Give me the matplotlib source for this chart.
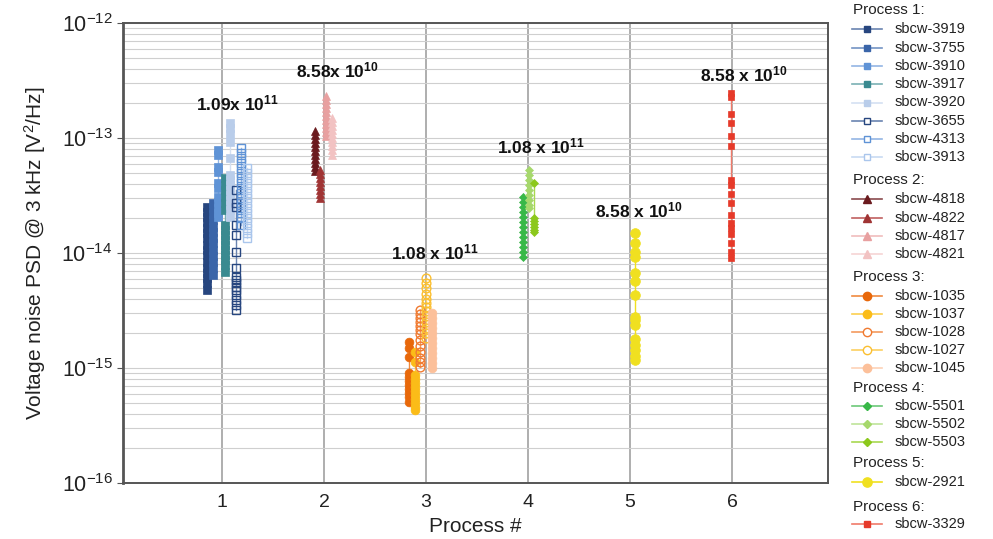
import matplotlib
matplotlib.use("Agg")
import matplotlib.pyplot as plt
from matplotlib.lines import Line2D
from matplotlib.ticker import LogLocator, NullFormatter

plt.rcParams['font.family'] = ['Liberation Sans', 'DejaVu Sans']
plt.rcParams['mathtext.fontset'] = 'custom'
plt.rcParams['mathtext.rm'] = 'Liberation Sans'
plt.rcParams['mathtext.it'] = 'Liberation Sans:italic'
plt.rcParams['mathtext.bf'] = 'Liberation Sans:bold'
plt.rcParams['axes.unicode_minus'] = False

# ---------------- data ----------------
process_ticks = [1, 2, 3, 4, 5, 6]
y_ticks = [1e-16, 1e-15, 1e-14, 1e-13, 1e-12]
y_tick_labels = [r"10$^{-16}$", r"10$^{-15}$", r"10$^{-14}$", r"10$^{-13}$", r"10$^{-12}$"]

names = ["sbcw-3919", "sbcw-3755", "sbcw-3910", "sbcw-3917", "sbcw-3920", "sbcw-3655", "sbcw-4313", "sbcw-3913",
         "sbcw-4818", "sbcw-4822", "sbcw-4817", "sbcw-4821",
         "sbcw-1035", "sbcw-1037", "sbcw-1028", "sbcw-1027", "sbcw-1045",
         "sbcw-5501", "sbcw-5502", "sbcw-5503",
         "sbcw-2921",
         "sbcw-3329"]

process_of = [1, 1, 1, 1, 1, 1, 1, 1,
              2, 2, 2, 2,
              3, 3, 3, 3, 3,
              4, 4, 4,
              5,
              6]

# x position of each series (process number plus small spread)
series_x = [0.85, 0.91, 0.96, 1.03, 1.08, 1.14, 1.19, 1.25,
            1.91, 1.96, 2.02, 2.08,
            2.83, 2.89, 2.94, 3.00, 3.06,
            3.95, 4.01, 4.06,
            5.05,
            5.99]

psd_3919 = [2.51e-14, 2.27e-14, 2.06e-14, 1.86e-14, 1.65e-14, 1.49e-14, 1.35e-14, 1.17e-14,
            1.06e-14, 9.6e-15, 8.35e-15, 7.41e-15, 6.70e-15, 6.06e-15, 5.48e-15, 4.77e-15]
psd_3755 = [2.72e-14, 2.46e-14, 2.18e-14, 1.94e-14, 1.68e-14, 1.52e-14, 1.35e-14, 1.22e-14,
            1.06e-14, 9.4e-15, 8.35e-15, 7.41e-15, 6.44e-15]
psd_3910 = [7.87e-14, 7.11e-14, 5.60e-14, 5.06e-14, 4.06e-14, 3.67e-14, 3.07e-14, 2.77e-14,
            2.46e-14, 2.23e-14, 2.06e-14]
psd_3917 = [4.49e-14, 3.90e-14, 3.53e-14, 3.07e-14, 2.72e-14, 2.36e-14, 1.75e-14, 1.58e-14,
            1.43e-14, 1.30e-14, 1.17e-14, 1.06e-14, 9.6e-15, 8.7e-15, 7.87e-15, 6.84e-15]
psd_3920 = [1.35e-13, 1.22e-13, 1.08e-13, 9.23e-14, 6.70e-14, 4.77e-14, 4.31e-14, 3.90e-14,
            3.53e-14, 3.19e-14, 2.89e-14, 2.61e-14, 2.36e-14, 2.06e-14]
psd_3655 = [3.53e-14, 2.72e-14, 2.51e-14, 1.75e-14, 1.43e-14, 1.02e-14, 7.41e-15, 6.18e-15,
            5.82e-15, 5.48e-15, 5.06e-15, 4.77e-15, 4.31e-15, 3.90e-15, 3.53e-15, 3.19e-15]
psd_4313 = [8.18e-14, 7.41e-14, 6.70e-14, 6.06e-14, 5.48e-14, 4.96e-14, 4.49e-14, 4.06e-14,
            3.67e-14, 3.32e-14, 3.01e-14, 2.72e-14, 2.46e-14, 2.23e-14, 2.02e-14, 1.75e-14]
psd_3913 = [5.48e-14, 4.96e-14, 4.49e-14, 4.06e-14, 3.67e-14, 3.32e-14, 3.01e-14, 2.72e-14,
            2.46e-14, 2.23e-14, 2.02e-14, 1.82e-14, 1.65e-14, 1.49e-14, 1.35e-14]

psd_4818 = [1.15e-13, 1.06e-13, 9.8e-14, 9.06e-14, 8.36e-14, 7.71e-14, 7.11e-14, 6.57e-14,
            6.06e-14, 5.60e-14, 5.17e-14]
psd_4822 = [5.27e-14, 4.86e-14, 4.49e-14, 4.14e-14, 3.83e-14, 3.53e-14, 3.26e-14, 3.01e-14]
psd_4817 = [2.32e-13, 2.14e-13, 1.98e-13, 1.82e-13, 1.68e-13, 1.55e-13, 1.43e-13, 1.32e-13,
            1.22e-13, 1.13e-13, 1.04e-13]
psd_4821 = [1.49e-13, 1.38e-13, 1.27e-13, 1.17e-13, 1.08e-13, 1.0e-13, 9.23e-14, 8.51e-14,
            7.87e-14, 7.11e-14]

psd_1035 = [1.68e-15, 1.49e-15, 1.25e-15, 9.06e-16, 8.36e-16, 7.71e-16, 7.11e-16, 6.57e-16,
            6.06e-16, 5.60e-16, 5.06e-16]
psd_1037 = [1.38e-15, 1.13e-15, 8.69e-16, 8.02e-16, 7.41e-16, 6.84e-16, 6.31e-16, 5.82e-16,
            5.37e-16, 4.96e-16, 4.58e-16, 4.31e-16]
psd_1028 = [3.19e-15, 2.95e-15, 2.72e-15, 2.51e-15, 2.32e-15, 2.14e-15, 1.98e-15, 1.75e-15,
            1.55e-15, 1.38e-15, 1.22e-15, 1.13e-15, 1.02e-15]
psd_1027 = [6.06e-15, 5.48e-15, 4.96e-15, 4.40e-15, 3.98e-15, 3.67e-15, 3.39e-15, 3.13e-15,
            2.83e-15, 2.51e-15, 2.23e-15, 2.01e-15, 1.82e-15]
psd_1045 = [3.01e-15, 2.72e-15, 2.46e-15, 2.23e-15, 2.01e-15, 1.82e-15, 1.65e-15, 1.49e-15,
            1.35e-15, 1.22e-15, 1.10e-15, 1.0e-15]

psd_5501 = [3.07e-14, 2.77e-14, 2.51e-14, 2.27e-14, 2.06e-14, 1.86e-14, 1.68e-14, 1.52e-14,
            1.38e-14, 1.25e-14, 1.13e-14, 1.02e-14, 9.23e-15]
psd_5502 = [5.27e-14, 4.77e-14, 4.31e-14, 3.90e-14, 3.53e-14, 3.19e-14, 2.89e-14, 2.61e-14, 2.46e-14]
psd_5503 = [4.06e-14, 2.02e-14, 1.90e-14, 1.79e-14, 1.68e-14, 1.58e-14, 1.52e-14]

psd_2921 = [1.49e-14, 1.22e-14, 1.02e-14, 9.23e-15, 6.70e-15, 5.71e-15, 4.31e-15, 2.77e-15,
            2.61e-15, 2.36e-15, 1.79e-15, 1.58e-15, 1.43e-15, 1.27e-15, 1.17e-15]

psd_3329 = [2.46e-13, 2.27e-13, 1.62e-13, 1.35e-13, 1.04e-13, 8.51e-14, 4.31e-14, 3.90e-14,
            3.26e-14, 2.72e-14, 2.14e-14, 1.82e-14, 1.65e-14, 1.46e-14, 1.22e-14, 1.02e-14, 9.06e-15]

series_values = [psd_3919, psd_3755, psd_3910, psd_3917, psd_3920, psd_3655, psd_4313, psd_3913,
                 psd_4818, psd_4822, psd_4817, psd_4821,
                 psd_1035, psd_1037, psd_1028, psd_1027, psd_1045,
                 psd_5501, psd_5502, psd_5503,
                 psd_2921,
                 psd_3329]

annot_text = [r"1.09x 10$^{\mathbf{11}}$", r"8.58x 10$^{\mathbf{10}}$", r"1.08 x 10$^{\mathbf{11}}$",
              r"1.08 x 10$^{\mathbf{11}}$", r"8.58 x 10$^{\mathbf{10}}$", r"8.58 x 10$^{\mathbf{10}}$"]
annot_x = [1.15, 2.13, 3.09, 4.13, 5.09, 6.11]
annot_y = [2.0e-13, 3.9e-13, 1.02e-14, 8.5e-14, 2.35e-14, 3.6e-13]

# ---------------- styles ----------------
colors = ["#27467f", "#3a65a9", "#5f93d6", "#3a8a90", "#b9cdea", "#27467f", "#5f93d6", "#aac6ec",
          "#6a1a1e", "#a03434", "#e8a0a0", "#f2c2c2",
          "#e8680a", "#fbbc18", "#f07a30", "#fbbf30", "#fcc09a",
          "#38b848", "#a6d86c", "#8cc81c",
          "#f0e020",
          "#e63a2a"]
line_colors = ["#6a84b0", "#7393c4", "#93b5e4", "#7ab0b4", "#d4e0f2", "#6a84b0", "#93b5e4", "#c8daf2",
               "#8a4a4e", "#c06060", "#f0bcbc", "#f6d4d4",
               "#f08a40", "#fcd050", "#f4995e", "#fcd060", "#fdd2b6",
               "#6cc878", "#bfe49a", "#a8d850",
               "#f0e020",
               "#f07a6a"]
markers = ['s'] * 8 + ['^'] * 4 + ['o'] * 5 + ['D'] * 3 + ['o'] + ['s']
filled = [True, True, True, True, True, False, False, False,
          True, True, True, True,
          True, True, False, False, True,
          True, True, True,
          True,
          True]
msizes = [5.2] * 8 + [6] * 4 + [6.3] * 5 + [4.2] * 3 + [7.0] + [5.0]

fig = plt.figure(figsize=(9.93, 5.39), dpi=100)
ax = fig.add_axes([123 / 993, 56 / 539, 705 / 993, 460 / 539])

for i in range(len(names)):
    xs = [series_x[i]] * len(series_values[i])
    ax.plot(xs, series_values[i], color=line_colors[i], lw=1.0, zorder=3)
    ax.plot(xs, series_values[i], linestyle='none', marker=markers[i], ms=msizes[i],
            markerfacecolor=colors[i] if filled[i] else 'none',
            markeredgecolor=colors[i], markeredgewidth=1.0 if not filled[i] else 0.5, zorder=4)

for t, x, y in zip(annot_text, annot_x, annot_y):
    ax.text(x, y, t, ha='center', va='center', fontsize=12.5, fontweight='bold', color='#111111', zorder=6)

ax.set_yscale('log')
ax.set_ylim(1e-16, 1e-12)
ax.set_xlim(0.03, 6.94)
ax.set_xticks(process_ticks)
ax.set_xticklabels([str(p) for p in process_ticks], fontsize=14, color='#222222')
ax.set_yticks(y_ticks)
ax.set_yticklabels(y_tick_labels)
ax.yaxis.set_minor_locator(LogLocator(base=10, subs=range(2, 10), numticks=100))
ax.yaxis.set_minor_formatter(NullFormatter())
ax.tick_params(axis='y', which='major', labelsize=15.5, length=4, color='#555555', labelcolor='#222222')
ax.tick_params(axis='y', which='minor', length=0)
ax.tick_params(axis='x', length=0, pad=8)

ax.grid(True, axis='y', which='both', color='#cfcfcf', lw=0.8, zorder=0)
ax.grid(True, axis='x', which='major', color='#a8a8a8', lw=1.3, zorder=0)
ax.set_axisbelow(True)
for s in ax.spines.values():
    s.set_color('#555555')
    s.set_linewidth(1.4)
ax.spines['left'].set_linewidth(2.0)

ax.set_xlabel('Process #', fontsize=15, color='#222222', labelpad=4)
ax.set_ylabel(r'Voltage noise PSD @ 3 kHz [V$^2$/Hz]', fontsize=15, color='#222222', labelpad=10)

# ---------------- legend (drawn manually) ----------------
lax = fig.add_axes([845 / 993, 0, 148 / 993, 1])
lax.set_xlim(845, 993)
lax.set_ylim(539, 0)
lax.axis('off')

title_y = {1: 10, 2: 180, 3: 277, 4: 388, 5: 463, 6: 507}
entry_y = [29, 47.5, 66, 84, 102.5, 121, 139, 157,
           199, 217.5, 236, 254,
           296, 314, 332, 350, 368,
           406, 424, 442,
           482,
           524]
for p, ty in title_y.items():
    lax.text(853, ty, f"Process {p}:", fontsize=11, va='center', ha='left', color='#222222')
for i in range(len(names)):
    y = entry_y[i]
    lax.add_line(Line2D([852, 882], [y, y], color=line_colors[i], lw=1.2))
    lax.add_line(Line2D([867], [y], marker=markers[i], ms=msizes[i] * 0.95,
                        markerfacecolor=colors[i] if filled[i] else 'white',
                        markeredgecolor=colors[i], markeredgewidth=1.0, linestyle='none'))
    lax.text(895, y, names[i], fontsize=10.5, va='center', ha='left', color='#222222')

fig.savefig('out.png', dpi=100)
